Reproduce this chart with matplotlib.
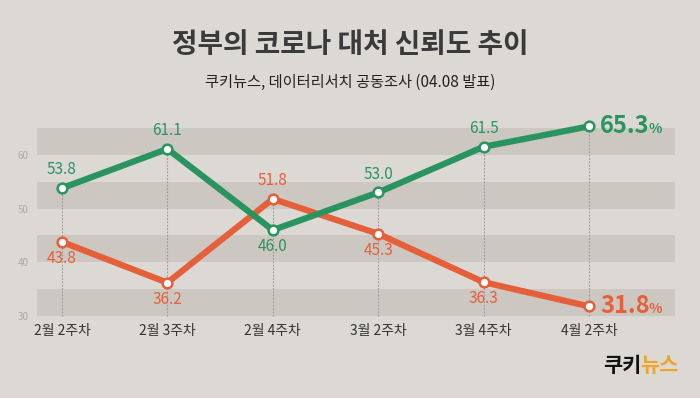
import matplotlib.pyplot as plt

plt.rcParams['font.family'] = ['Noto Sans CJK KR', 'DejaVu Sans']

weeks = ['2월 2주차', '2월 3주차', '2월 4주차', '3월 2주차', '3월 4주차', '4월 2주차']
trust = [53.8, 61.1, 46.0, 53.0, 61.5, 65.3]
distrust = [43.8, 36.2, 51.8, 45.3, 36.3, 31.8]
trust_pos = ['up', 'up', 'down', 'up', 'up', 'end']
distrust_pos = ['down', 'down', 'up', 'down', 'down', 'end']

bg = '#dcd9d4'
band = '#ccc7c1'
green = '#2a9461'
orange = '#e5603a'

fig = plt.figure(figsize=(7, 3.98), dpi=100, facecolor=bg)
ax = fig.add_axes([37/700, 1-316/398, (675-37)/700, (316-128)/398])
ax.set_facecolor(bg)
x = list(range(len(weeks)))

for lo in [30, 40, 50, 60]:
    ax.axhspan(lo, lo+5, color=band, lw=0, zorder=0)

for i in x:
    top = max(trust[i], distrust[i])
    ax.plot([i, i], [30, top], color='#999999', lw=0.8, ls=(0, (1.5, 1.5)), zorder=1,
            clip_on=False)

ax.plot(x, distrust, color=orange, lw=4.5, zorder=3, marker='o', ms=7,
        mfc='white', mec=orange, mew=1.8, solid_capstyle='round', clip_on=False)
ax.plot(x, trust, color=green, lw=4.5, zorder=3, marker='o', ms=7,
        mfc='white', mec=green, mew=1.8, solid_capstyle='round', clip_on=False)

for vals, pos, c in [(trust, trust_pos, green), (distrust, distrust_pos, orange)]:
    for i, (v, p) in enumerate(zip(vals, pos)):
        if p == 'up':
            ax.annotate(f'{v:.1f}', (i, v), xytext=(0, 7), textcoords='offset points',
                        ha='center', va='bottom', color=c, fontsize=11)
        elif p == 'down':
            ax.annotate(f'{v:.1f}', (i, v), xytext=(0, -6), textcoords='offset points',
                        ha='center', va='top', color=c, fontsize=11)
        else:
            t = ax.annotate(f'{v:.1f}', (i, v), xytext=(8, 0), textcoords='offset points',
                            ha='left', va='center', color=c, fontsize=17, fontweight='bold',
                            annotation_clip=False)
            ax.annotate('%', xy=(1, 0.22), xycoords=t, xytext=(-1, 0),
                        textcoords='offset points', ha='left', va='baseline',
                        color=c, fontsize=10, fontweight='bold', annotation_clip=False)

ax.set_xlim(-0.237, 5.816)
ax.set_ylim(30, 65)
ax.set_yticks([30, 40, 50, 60])
ax.set_xticks(x)
ax.set_xticklabels(weeks, fontsize=10, color='#333333')
ax.tick_params(axis='y', labelsize=7, colors='#aaaaaa', length=0, pad=6)
ax.tick_params(axis='x', length=0, pad=6)
for s in ax.spines.values():
    s.set_visible(False)

fig.text(0.5, 1-45/398, '정부의 코로나 대처 신뢰도 추이', ha='center', va='center',
         fontsize=20, fontweight='black', color='#3a3a3a')
fig.text(0.5, 1-82/398, '쿠키뉴스, 데이터리서치 공동조사 (04.08 발표)', ha='center', va='center',
         fontsize=11, color='#222222')
fig.text(603/700, 1-366/398, '쿠키', ha='left', va='center', fontsize=15,
         fontweight='black', color='#111111')
fig.text(640/700, 1-366/398, '뉴스', ha='left', va='center', fontsize=15,
         fontweight='black', color='#f0a32a')

fig.savefig('out.png', dpi=100, facecolor=bg)
